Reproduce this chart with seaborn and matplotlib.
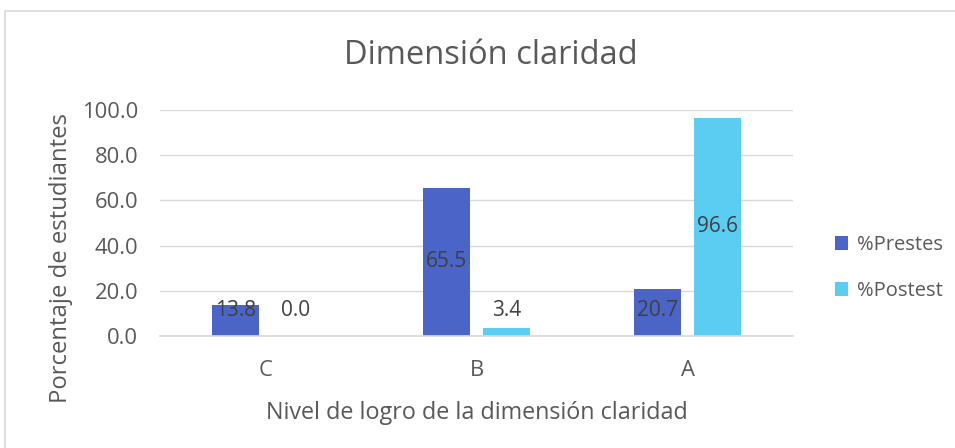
import matplotlib
matplotlib.use("Agg")
import matplotlib.pyplot as plt
import seaborn as sns
import pandas as pd
from matplotlib.patches import Rectangle

categories = ["C", "B", "A"]
prestes = [13.8, 65.5, 20.7]
postest = [0.0, 3.4, 96.6]
series_names = ["%Prestes", "%Postest"]
yticks = [0, 20, 40, 60, 80, 100]

df = pd.DataFrame({
    "Nivel": categories * 2,
    "Serie": [series_names[0]] * 3 + [series_names[1]] * 3,
    "Valor": prestes + postest,
})

sns.set_theme(style="white")
plt.rcParams["font.family"] = ["Open Sans", "DejaVu Sans"]

TXT = "#595959"
fig = plt.figure(figsize=(9.55, 4.48), dpi=100)
ax = fig.add_axes([160/955, 1-336/448, 633/955, 226/448])

sns.barplot(data=df, x="Nivel", y="Valor", hue="Serie", order=categories,
            hue_order=series_names, palette=["#4B64C7", "#5BCDF3"],
            width=0.57, gap=0.22, ax=ax, legend=True, saturation=1,
            linewidth=0, edgecolor="none")

ax.set_xlim(-0.5, 2.5)
ax.set_ylim(0, 100)
ax.set_yticks(yticks)
ax.set_yticklabels([f"{v:.1f}" for v in yticks])
ax.grid(axis="y", color="#D9D9D9", lw=1)
ax.set_axisbelow(True)
for s in ["top", "right", "left"]:
    ax.spines[s].set_visible(False)
ax.spines["bottom"].set_color("#D9D9D9")
ax.tick_params(axis="both", length=0, colors=TXT, labelsize=15.8)
ax.tick_params(axis="y", pad=15.8)
ax.tick_params(axis="x", pad=17)

ax.set_xlabel("Nivel de logro de la dimensión claridad", fontsize=16.8, color=TXT, labelpad=15)
ax.set_ylabel("Porcentaje de estudiantes", fontsize=17.2, color=TXT)
ax.yaxis.label.set_verticalalignment("center")
ax.yaxis.set_label_coords((61 - 160) / 633, (336 - 258) / 226)

for cont in ax.containers:
    for bar in cont:
        h = bar.get_height()
        yc = max(h / 2, 11.5)
        ax.text(bar.get_x() + bar.get_width() / 2, yc, f"{h:.1f}",
                ha="center", va="center", fontsize=15, color="#404040")

fig.text(491/955, 1-55/448, "Dimensión claridad", ha="center", va="center",
         fontsize=23.5, color=TXT)

h, l = ax.get_legend_handles_labels()
ax.legend(h, l, loc="center left", bbox_to_anchor=(817/955, 1-268/448),
          bbox_transform=fig.transFigure, frameon=False, fontsize=14.5,
          handlelength=0.65, handleheight=0.65, handletextpad=0.45,
          labelspacing=1.3, labelcolor=TXT)

fig.patches.append(Rectangle((5/955, -0.1), 1.2, 1.1 - 11/448, transform=fig.transFigure,
                             fill=False, edgecolor="#D9D9D9", lw=1.2))

fig.savefig("out.png", dpi=100)
